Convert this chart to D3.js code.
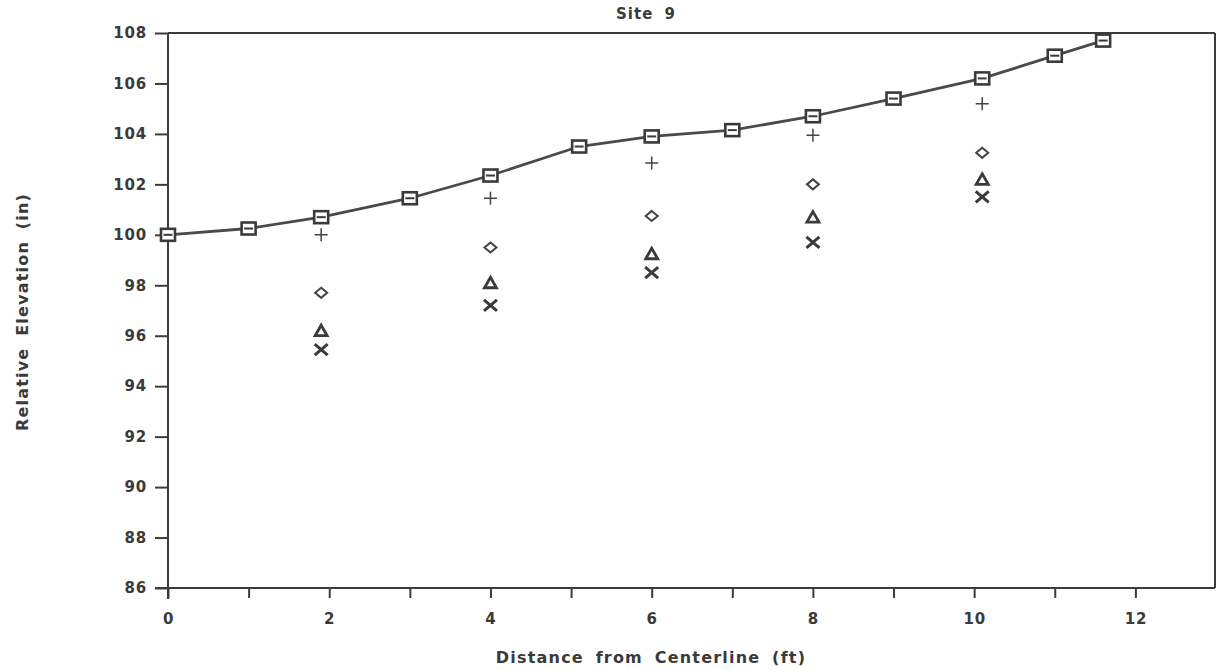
<!DOCTYPE html>
<html><head><meta charset="utf-8">
<script src="https://cdn.jsdelivr.net/npm/d3@7"></script>
<style>
html,body{margin:0;padding:0;background:#fff;}
svg text{font-family:"DejaVu Sans",Verdana,sans-serif;font-weight:bold;fill:#3a3a3a;}
</style></head>
<body><svg id="c" width="1217" height="670"></svg>
<script>
const title = "Site 9";
const xLabel = "Distance from Centerline (ft)";
const yLabel = "Relative Elevation (in)";
const surfaceX = [0, 1, 1.9, 3, 4, 5.1, 6, 7, 8, 9, 10.1, 11, 11.6];
const surfaceY = [100, 100.25, 100.7, 101.45, 102.35, 103.5, 103.9, 104.15, 104.7, 105.4, 106.2, 107.1, 107.7];
const probeX = [1.9, 4, 6, 8, 10.1];
const plusY = [100.0, 101.45, 102.85, 103.95, 105.2];
const diamondY = [97.7, 99.5, 100.75, 102.0, 103.25];
const triangleY = [96.2, 98.1, 99.25, 100.7, 102.2];
const crossY = [95.45, 97.2, 98.5, 99.7, 101.5];
const xTickLabels = [0, 2, 4, 6, 8, 10, 12];
const xMinorTicks = [1, 3, 5, 7, 9, 11];
const yTickLabels = [86, 88, 90, 92, 94, 96, 98, 100, 102, 104, 106, 108];

const ink = "#3c3c3c";
const svg = d3.select("#c");
const L = 168, R = 1216, T = 33, B = 588;
const x = d3.scaleLinear().domain([0, 13]).range([L, R]);
const y = d3.scaleLinear().domain([86, 108]).range([B, T]);

// frame top and right
svg.append("line").attr("x1", L).attr("x2", R - 1).attr("y1", T).attr("y2", T).attr("stroke", ink).attr("stroke-width", 2);
svg.append("line").attr("x1", R - 1).attr("x2", R - 1).attr("y1", T).attr("y2", B).attr("stroke", ink).attr("stroke-width", 2);

function styleLabels(sel) {
  sel.attr("font-size", 15).attr("fill", ink)
    .style("font-family", "'DejaVu Sans',sans-serif").style("font-weight", "bold")
    .style("letter-spacing", "0.8px");
}

// y axis
const yAxis = svg.append("g").attr("transform", `translate(${L},0)`)
  .call(d3.axisLeft(y).tickValues(yTickLabels).tickSize(13).tickPadding(8).tickFormat(d3.format("d")));
yAxis.select(".domain").attr("stroke", ink).attr("stroke-width", 2).attr("d", `M0,${T}V${B + 11}`);
yAxis.selectAll(".tick line").attr("stroke", ink).attr("stroke-width", 2);
styleLabels(yAxis.selectAll(".tick text"));

// x axis
const xAxis = svg.append("g").attr("transform", `translate(0,${B})`)
  .call(d3.axisBottom(x).tickValues(xTickLabels).tickSize(10).tickPadding(15).tickFormat(d3.format("d")));
xAxis.select(".domain").attr("stroke", ink).attr("stroke-width", 2).attr("d", `M${L - 13},0H${R - 1}`);
xAxis.selectAll(".tick line").attr("stroke", ink).attr("stroke-width", 2);
styleLabels(xAxis.selectAll(".tick text"));
const xMinor = svg.append("g").attr("transform", `translate(0,${B})`)
  .call(d3.axisBottom(x).tickValues(xMinorTicks).tickSize(10).tickFormat(""));
xMinor.select(".domain").remove();
xMinor.selectAll(".tick line").attr("stroke", ink).attr("stroke-width", 2);

// titles
svg.append("text").attr("x", 646).attr("y", 19).attr("text-anchor", "middle").attr("font-size", 15)
  .style("letter-spacing", "1px").style("word-spacing", "5px").text(title);
svg.append("text").attr("x", 651).attr("y", 663).attr("text-anchor", "middle").attr("font-size", 16)
  .style("letter-spacing", "1.2px").style("word-spacing", "5px").text(xLabel);
svg.append("text").attr("transform", "translate(28,312) rotate(-90)").attr("text-anchor", "middle").attr("font-size", 16)
  .style("letter-spacing", "1.2px").style("word-spacing", "5px").text(yLabel);

// surface line
const pts = surfaceX.map((v, i) => [v, surfaceY[i]]);
svg.append("path").datum(pts)
  .attr("d", d3.line().x(d => x(d[0])).y(d => y(d[1])))
  .attr("fill", "none").attr("stroke", "#4a4a4a").attr("stroke-width", 2.8);
const sq = svg.append("g").selectAll("g").data(pts).join("g")
  .attr("transform", d => `translate(${x(d[0])},${y(d[1])})`);
sq.append("rect").attr("x", -7).attr("y", -6).attr("width", 14).attr("height", 12)
  .attr("fill", "#fff").attr("stroke", "#3a3a3a").attr("stroke-width", 2.6);
sq.append("line").attr("x1", -4.5).attr("x2", 4.5).attr("y1", 0).attr("y2", 0).attr("stroke", "#3a3a3a").attr("stroke-width", 2);

// plus markers
const plusPts = probeX.map((v, i) => [v, plusY[i]]);
svg.append("g").selectAll("path").data(plusPts).join("path")
  .attr("transform", d => `translate(${x(d[0])},${y(d[1])})`)
  .attr("d", "M-6.5,0H6.5M0,-6.5V6.5").attr("stroke", "#444").attr("stroke-width", 1.5).attr("fill", "none");

// diamonds
const diaPts = probeX.map((v, i) => [v, diamondY[i]]);
svg.append("g").selectAll("path").data(diaPts).join("path")
  .attr("transform", d => `translate(${x(d[0])},${y(d[1])})`)
  .attr("d", "M0,-5L6,0L0,5L-6,0Z").attr("stroke", "#444").attr("stroke-width", 2).attr("fill", "#fff");

// triangles
const triPts = probeX.map((v, i) => [v, triangleY[i]]);
svg.append("g").selectAll("path").data(triPts).join("path")
  .attr("transform", d => `translate(${x(d[0])},${y(d[1])})`)
  .attr("d", "M0,-5.5L6,5L-6,5Z").attr("stroke", "#3a3a3a").attr("stroke-width", 2.8).attr("fill", "#fff");

// crosses
const crPts = probeX.map((v, i) => [v, crossY[i]]);
svg.append("g").selectAll("path").data(crPts).join("path")
  .attr("transform", d => `translate(${x(d[0])},${y(d[1])})`)
  .attr("d", "M-6.5,-5.5L6.5,5.5M-6.5,5.5L6.5,-5.5").attr("stroke", "#3a3a3a").attr("stroke-width", 3).attr("fill", "none");
</script></body></html>
